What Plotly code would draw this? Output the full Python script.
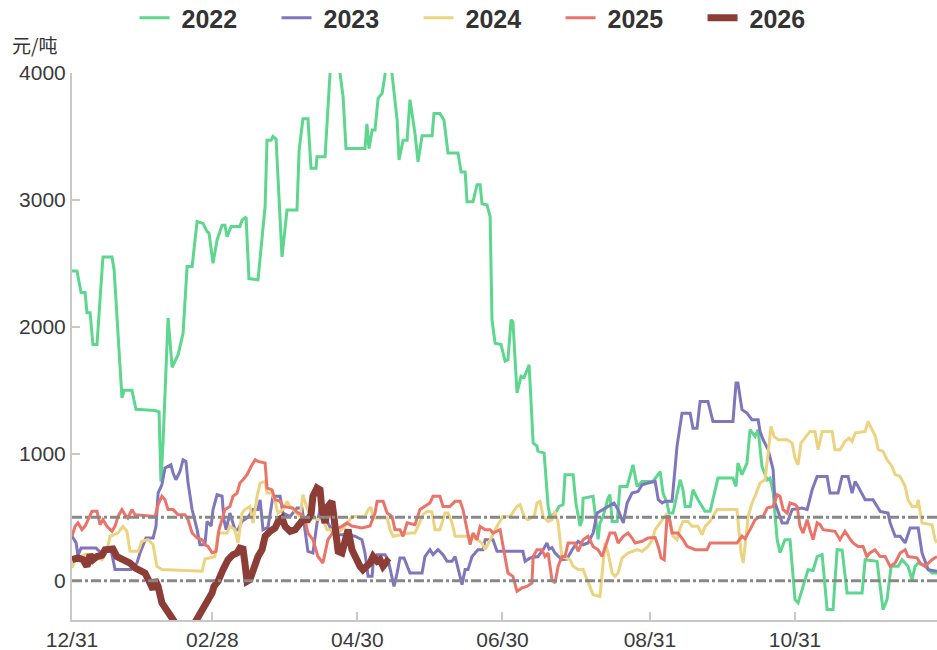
import plotly.graph_objects as go

tick_days = [0, 59, 120, 181, 243, 304]
tick_text = ["12/31", "02/28", "04/30", "06/30", "08/31", "10/31"]
y_ticks = [0, 1000, 2000, 3000, 4000]
ref_levels = [0, 500]

d2022 = [0, 2.1, 3.8, 5.5, 6.3, 7.6, 8.8, 10.5, 13.0, 16.8, 17.7, 19.3, 21.0, 21.9, 25.2, 26.9, 34.9, 36.6, 37.4, 38.3,
         39.1, 40.4, 42.1, 44.6, 46.7, 48.4, 50.5, 52.6, 55.1, 56.8, 57.6, 59.3, 61.0, 63.1, 64.3, 65.2, 66.9, 70.6, 71.5, 73.2,
         74.4, 78.2, 81.2, 82.0, 83.7, 84.5, 85.8, 88.3, 90.4, 94.6, 95.5, 97.1, 99.2, 100.5, 102.6, 103.0, 106.4, 108.5, 110.6, 112.7,
         114.0, 115.2, 123.2, 124.0, 124.9, 126.2, 127.4, 128.7, 130.4, 131.6, 132.9, 134.6, 136.7, 137.5, 139.2, 140.9, 142.1, 144.2, 145.5, 147.2,
         151.4, 152.2, 154.7, 156.4, 158.1, 162.3, 163.6, 165.3, 166.1, 168.6, 170.3, 171.6, 172.4, 174.5, 175.8, 176.6, 177.9, 180.4, 182.1, 183.3,
         184.6, 185.4, 187.1, 188.8, 190.1, 192.2, 193.9, 195.5, 195.9, 198.5, 199.3, 200.2, 201.0, 203.1, 204.8, 206.5, 207.3, 210.7, 211.9, 213.6,
         214.5, 214.9, 219.1, 219.9, 221.2, 222.0, 223.3, 225.4, 226.2, 227.1, 229.2, 230.4, 233.4, 235.9, 237.6, 239.7, 244.3, 247.3, 248.5, 250.2,
         251.0, 252.7, 255.7, 256.9, 257.8, 259.9, 261.1, 263.2, 266.2, 268.3, 270.4, 271.6, 277.9, 279.2, 280.0, 281.7, 283.8, 285.1, 287.2, 288.5,
         290.1, 292.3, 293.5, 294.8, 296.5, 297.7, 299.8, 301.9, 304.0, 305.3, 307.4, 309.5, 311.6, 313.3, 315.4, 317.5, 320.0, 321.7, 323.8, 325.9,
         332.2, 333.5, 338.5, 339.8, 341.0, 342.7, 344.4, 347.4, 349.0, 351.5, 353.2, 354.5, 355.8, 358.7, 361.6, 363.7]
v2022 = [2440, 2440, 2270, 2270, 2110, 2110, 1860, 1860, 2550, 2550, 2450, 2000, 1440, 1500, 1500, 1350, 1340, 1330, 780, 1100,
         1500, 2070, 1680, 1780, 1950, 2475, 2475, 2830, 2815, 2750, 2740, 2500, 2685, 2800, 2800, 2710, 2790, 2790, 2840, 2865,
         2380, 2370, 2950, 3470, 3470, 3500, 3480, 2550, 2920, 2920, 3390, 3640, 3640, 3250, 3250, 3340, 3340, 4000, 4300, 3985,
         3810, 3405, 3405, 3600, 3405, 3550, 3550, 3800, 3840, 3985, 4250, 3985, 3630, 3315, 3470, 3470, 3790, 3525, 3300, 3505,
         3505, 3680, 3680, 3630, 3370, 3370, 3220, 3220, 2985, 2985, 3120, 3120, 2970, 2960, 2870, 2055, 1870, 1860, 1730, 1740,
         2055, 2040, 1480, 1610, 1600, 1700, 1085, 1060, 1020, 1005, 795, 585, 505, 530, 585, 600, 835, 835, 610, 430,
         480, 650, 665, 535, 325, 455, 505, 650, 677, 467, 467, 742, 742, 913, 742, 782, 782, 860, 690, 612,
         533, 533, 795, 716, 585, 585, 716, 638, 546, 546, 716, 808, 808, 743, 927, 835, 927, 1190, 1136, 1190,
         900, 795, 808, 700, 323, 220, 323, 323, -150, -175, -45, 87, 80, 190, 205, -228, -228, 244, 240, -97,
         -97, 165, 152, -45, -228, -150, 113, 113, 165, 113, 8, 113, 139, 113, 60, 60]

d2023 = [0, 1.7, 2.5, 3.8, 10.1, 12.2, 16.4, 18.1, 24.8, 27.3, 28.6, 31.1, 34.1, 35.3, 36.2, 37.8, 39.1, 41.6, 42.5, 43.7,
         45.4, 46.7, 47.9, 48.8, 50.5, 52.6, 53.8, 55.9, 56.8, 58.5, 59.3, 61.0, 63.1, 63.9, 64.8, 66.4, 68.5, 69.8, 71.5, 74.0,
         76.1, 78.2, 79.1, 80.3, 82.4, 84.5, 87.5, 88.7, 91.7, 94.6, 96.7, 98.0, 99.2, 101.3, 103.0, 104.3, 106.4, 107.6, 109.8, 111.4,
         115.6, 119.0, 121.9, 123.2, 124.5, 126.2, 126.6, 128.3, 131.6, 132.9, 134.6, 135.4, 136.7, 137.9, 139.6, 140.9, 142.1, 147.2, 148.4, 150.5,
         151.8, 153.9, 156.0, 157.7, 159.8, 161.1, 163.2, 164.0, 165.3, 166.5, 168.2, 170.7, 172.8, 173.7, 177.0, 178.7, 189.6, 190.5, 192.6, 195.9,
         198.1, 199.7, 200.6, 201.8, 203.1, 206.0, 208.1, 210.3, 212.8, 214.9, 217.0, 219.1, 220.8, 223.3, 226.2, 227.9, 229.6, 231.8, 233.4, 235.5,
         238.0, 239.7, 242.2, 245.2, 246.5, 248.1, 249.4, 252.3, 254.4, 256.5, 259.9, 261.1, 262.8, 264.1, 267.4, 269.5, 277.9, 279.2, 280.0, 281.7,
         283.8, 285.9, 288.5, 289.3, 290.6, 292.7, 294.8, 295.6, 298.6, 300.7, 302.8, 307.0, 309.1, 311.2, 313.3, 317.5, 318.7, 322.1, 323.8, 326.3,
         328.0, 329.3, 330.5, 333.5, 336.8, 339.8, 343.1, 344.0, 346.1, 348.2, 350.3, 352.4, 355.8, 357.4, 360.0, 363.7]
v2023 = [350, 300, 200, 257, 257, 218, 244, 87, 87, 139, 218, 336, 336, 427, 690, 756, 887, 913, 848, 795,
         860, 953, 940, 769, 560, 402, 283, 283, 467, 430, 560, 677, 665, 480, 402, 533, 402, 402, 467, 500,
         560, 560, 637, 402, 420, 665, 665, 533, 505, 572, 572, 400, 231, 218, 450, 560, 560, 455, 375, 362,
         362, 350, 323, 218, 34, 34, 139, 205, 205, 165, 34, -45, 60, 179, 179, 113, 60, 60, 190, 244,
         205, 244, 205, 152, 152, 190, 34, -31, 87, 87, 190, 244, 244, 323, 323, 231, 231, 152, 179, 190,
         244, 297, 250, 260, 218, 165, 170, 244, 310, 283, 297, 375, 533, 560, 598, 612, 560, 455, 612, 690,
         703, 756, 769, 782, 638, 612, 625, 625, 1060, 1320, 1320, 1200, 1200, 1412, 1412, 1255, 1255, 1557, 1557, 1347,
         1320, 1268, 1268, 1176, 1110, 1032, 874, 612, 455, 455, 560, 572, 560, 716, 821, 821, 690, 690, 821, 821,
         690, 782, 743, 638, 638, 546, 533, 455, 350, 350, 297, 415, 415, 218, 87, 74]

d2024 = [0, 1.3, 5.5, 9.7, 12.6, 14.7, 16.0, 19.3, 21.4, 23.1, 24.4, 27.8, 29.4, 32.0, 34.1, 35.7, 37.8, 50.5, 54.7, 55.9,
         60.1, 61.4, 65.2, 66.4, 68.5, 69.8, 71.5, 72.7, 74.8, 76.1, 77.8, 79.1, 81.2, 82.0, 84.1, 85.4, 86.6, 88.7, 90.4, 91.7,
         93.8, 95.9, 97.1, 98.8, 100.9, 103.4, 105.1, 107.2, 109.3, 110.6, 114.8, 117.7, 123.2, 124.5, 125.7, 126.6, 132.5, 133.7, 135.0, 139.2,
         142.1, 144.2, 145.5, 147.6, 149.3, 151.4, 152.6, 154.7, 156.8, 158.1, 159.8, 161.1, 168.2, 170.3, 172.4, 173.7, 175.8, 178.7, 181.2, 184.2,
         187.1, 188.4, 190.1, 191.7, 194.3, 195.5, 196.8, 198.1, 200.2, 201.8, 203.1, 204.4, 206.0, 209.4, 210.7, 212.8, 214.9, 217.0, 219.1, 222.0,
         222.9, 224.1, 225.4, 227.1, 228.3, 229.6, 231.3, 233.8, 237.6, 239.7, 242.2, 243.9, 245.2, 248.1, 249.8, 251.5, 252.7, 254.4, 255.7, 256.9,
         259.0, 260.7, 263.2, 264.9, 266.2, 268.3, 269.5, 271.2, 279.6, 280.5, 281.3, 282.2, 283.0, 284.3, 285.9, 287.2, 289.3, 291.4, 292.7, 293.9,
         295.2, 296.9, 300.7, 302.8, 304.0, 305.3, 306.5, 308.2, 310.3, 312.4, 313.7, 315.4, 319.6, 320.8, 322.9, 325.0, 326.7, 328.0, 329.3, 333.5,
         334.7, 336.4, 337.8, 339.0, 341.0, 342.7, 344.8, 346.1, 348.2, 350.3, 351.5, 353.2, 355.3, 355.8, 357.4, 361.6, 362.9, 363.7]
v2024 = [100, 165, 205, 200, 165, 244, 350, 375, 428, 389, 231, 231, 310, 323, 283, 113, 87, 74, 74, 170,
         190, 375, 375, 428, 402, 297, 533, 560, 585, 455, 665, 769, 782, 690, 690, 625, 533, 560, 625, 585,
         546, 505, 677, 572, 494, 480, 500, 402, 402, 350, 428, 505, 505, 560, 580, 494, 494, 402, 350, 362,
         375, 375, 428, 520, 546, 540, 402, 402, 533, 533, 455, 350, 350, 323, 297, 244, 323, 428, 505, 505,
         585, 598, 505, 480, 505, 612, 625, 505, 467, 480, 546, 455, 190, 165, 113, 87, 87, -18, -110, -123,
         87, 297, 218, 60, 34, 60, 179, 218, 244, 231, 270, 320, 402, 480, 520, 467, 350, 323, 415, 467,
         467, 428, 428, 362, 428, 467, 505, 560, 560, 375, 218, 139, 297, 505, 612, 665, 769, 795, 1005, 1215,
         1136, 1110, 1110, 1084, 966, 913, 1084, 1123, 1176, 1176, 1032, 1176, 1176, 1032, 1032, 1097, 1123, 1097, 1163, 1176,
         1255, 1190, 1136, 1032, 1018, 953, 900, 835, 821, 743, 638, 585, 585, 638, 455, 441, 323, 300]

d2025 = [0, 1.3, 2.5, 4.2, 5.5, 6.7, 8.4, 10.5, 11.8, 13.0, 14.7, 16.8, 18.1, 19.3, 21.0, 22.3, 23.5, 25.2, 26.5, 34.9,
         36.2, 37.8, 39.1, 40.4, 42.5, 44.6, 47.5, 48.8, 50.5, 52.6, 54.7, 55.9, 57.2, 58.9, 60.6, 61.8, 63.1, 64.3, 66.4, 67.7,
         69.4, 70.6, 71.9, 73.6, 75.7, 77.0, 78.2, 81.2, 82.0, 84.1, 85.4, 87.5, 88.7, 92.9, 95.0, 96.7, 98.0, 99.2, 101.3, 103.4,
         105.5, 106.8, 107.6, 110.6, 113.5, 115.6, 117.7, 121.9, 125.3, 127.4, 128.3, 130.8, 132.5, 134.6, 135.8, 137.9, 139.2, 140.9, 144.2, 146.3,
         148.4, 150.5, 151.8, 154.7, 156.0, 158.9, 161.1, 163.2, 164.4, 166.1, 167.4, 168.6, 170.3, 171.6, 173.7, 175.8, 177.0, 180.0, 180.8, 182.1,
         183.3, 185.4, 187.1, 189.2, 191.3, 193.4, 193.9, 195.5, 197.6, 198.9, 200.2, 201.8, 203.1, 204.4, 206.0, 207.3, 208.6, 211.5, 212.8, 214.9,
         217.0, 219.1, 221.2, 222.9, 225.0, 226.2, 228.3, 229.6, 231.8, 233.8, 235.5, 236.8, 239.7, 242.2, 245.2, 246.5, 247.7, 249.0, 250.2, 251.0,
         252.3, 254.8, 256.9, 258.6, 262.0, 267.0, 268.3, 279.6, 281.7, 283.0, 285.1, 287.2, 289.3, 290.6, 292.3, 294.8, 296.5, 297.7, 299.0, 300.7,
         301.9, 304.0, 304.9, 306.1, 307.4, 309.1, 310.3, 311.6, 313.3, 314.6, 315.8, 320.8, 322.9, 325.0, 327.1, 328.4, 330.5, 332.6, 334.2, 335.5,
         337.6, 339.8, 341.9, 344.0, 346.1, 348.2, 350.3, 351.5, 355.3, 356.6, 358.7, 361.6, 363.7]
v2025 = [350, 428, 455, 402, 430, 480, 546, 546, 441, 480, 428, 389, 430, 505, 560, 520, 494, 560, 520, 505,
         598, 665, 638, 560, 560, 520, 520, 480, 375, 336, 323, 283, 270, 220, 230, 400, 480, 560, 585, 665,
         690, 769, 795, 835, 913, 953, 940, 927, 730, 716, 638, 625, 585, 572, 533, 520, 480, 375, 323, 190,
         139, 244, 323, 402, 428, 455, 430, 415, 430, 533, 625, 625, 533, 505, 402, 402, 350, 455, 440, 560,
         585, 612, 665, 665, 585, 585, 625, 625, 560, 402, 283, 375, 323, 428, 402, 402, 375, 402, 323, 190,
         60, 34, -84, -57, -45, -18, 190, 244, 244, 190, 218, 8, -18, 113, 190, 190, 297, 297, 231, 323,
         350, 270, 244, 190, 297, 375, 375, 297, 350, 375, 336, 297, 310, 336, 340, 270, 179, 165, 505, 505,
         375, 375, 323, 270, 244, 244, 297, 297, 350, 330, 402, 480, 505, 505, 572, 585, 677, 665, 560, 533,
         612, 600, 585, 428, 375, 480, 400, 323, 455, 441, 402, 389, 323, 389, 330, 297, 270, 270, 190, 218,
         244, 190, 190, 113, 139, 218, 244, 190, 180, 139, 113, 165, 190]

d2026 = [0, 2.5, 4.6, 6.3, 7.6, 8.8, 10.5, 12.6, 13.9, 16.0, 17.2, 18.9, 21.4, 24.4, 26.5, 28.6, 30.7, 32.8, 34.1, 34.9,
         36.2, 37.8, 40.4, 42.5, 44.6, 48.8, 51.7, 53.8, 55.9, 57.2, 58.9, 59.7, 61.4, 63.5, 65.6, 67.7, 69.4, 70.6, 71.9, 72.7,
         73.6, 74.8, 76.1, 78.2, 79.9, 81.2, 83.3, 85.4, 87.0, 88.3, 89.6, 91.7, 93.8, 95.9, 97.1, 99.2, 100.5, 101.3, 103.0, 104.3,
         105.1, 106.4, 107.6, 109.3, 110.6, 111.9, 113.5, 114.8, 116.1, 117.7, 119.8, 121.1, 122.3, 124.0, 125.3, 126.6, 128.3, 129.5, 130.8, 132.5,
         133.3]
v2026 = [165, 179, 165, 113, 205, 165, 190, 200, 244, 257, 250, 190, 165, 139, 100, 87, 60, -18, -70, 8,
         -45, -175, -241, -307, -380, -420, -330, -268, -202, -150, -97, -45, -5, 87, 165, 205, 218, 257, 250, 139,
         -5, 8, 87, 190, 244, 350, 389, 415, 480, 494, 428, 389, 402, 441, 480, 480, 520, 665, 730, 716,
         560, 455, 585, 625, 402, 231, 218, 323, 402, 244, 152, 113, 87, 113, 139, 190, 152, 165, 113, 152,
         139]

series = [
    ("2022", d2022, v2022, "#5dd68e", 3),
    ("2023", d2023, v2023, "#7f76bb", 3),
    ("2024", d2024, v2024, "#ecd37f", 3),
    ("2025", d2025, v2025, "#ea7469", 3),
    ("2026", d2026, v2026, "#8c3d35", 7),
]

FONT = "Liberation Sans, Arial, sans-serif"

fig = go.Figure()
for name, d, v, color, w in series:
    fig.add_trace(go.Scatter(x=d, y=v, mode="lines", name=" " + name,
                             line=dict(color=color, width=w)))

for lv in ref_levels:
    fig.add_shape(type="line", xref="paper", x0=0, x1=1, yref="y", y0=lv, y1=lv,
                  line=dict(color="#888888", width=3, dash="10px,3px,3px,3px"), layer="above")

axis_common = dict(showgrid=False, zeroline=False, automargin=False,
                   showline=True, linecolor="#c8c8c8", linewidth=2, ticks="inside", ticklen=8, tickwidth=1.5,
                   tickcolor="#c8c8c8",
                   tickfont=dict(size=21, color="#3a3a3a", family=FONT, weight="normal"))

fig.update_layout(
    width=937, height=650,
    margin=dict(l=72, r=0, t=73, b=30, autoexpand=False),
    paper_bgcolor="white", plot_bgcolor="white",
    font=dict(family=FONT, color="#333333"),
    showlegend=True,
    legend=dict(orientation="h", x=0.0723, xanchor="left", xref="paper",
                y=(650 - 18) / 650, yanchor="middle", yref="container",
                font=dict(size=25, color="#333333", family=FONT, weight="bold"),
                entrywidth=97, entrywidthmode="pixels", itemwidth=30,
                bgcolor="rgba(0,0,0,0)"),
    xaxis=dict(range=[0, 363.7], tickvals=tick_days, ticktext=tick_text, **axis_common),
    yaxis=dict(range=[-310, 4000], tickvals=y_ticks, **axis_common),
    annotations=[dict(text="元/吨", xref="paper", yref="paper", x=-0.072, y=1.053, xanchor="left", yanchor="middle",
                      showarrow=False, font=dict(size=19, color="#333333", family="Noto Sans CJK SC, sans-serif"))],
)

fig.write_html("out.html", config={"displayModeBar": False},
               post_script="document.body.style.margin='0';document.body.style.overflow='hidden';")
